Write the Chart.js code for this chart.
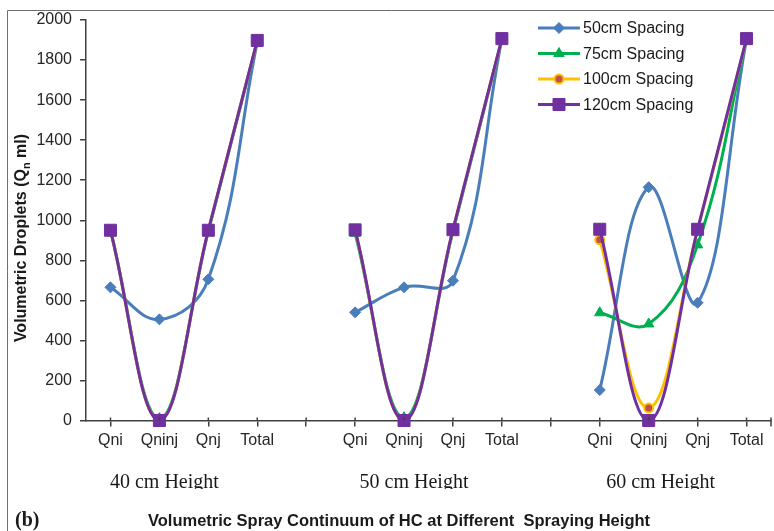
<!DOCTYPE html>
<html>
<head>
<meta charset="utf-8">
<script src="https://cdn.jsdelivr.net/npm/chart.js@4.4.1/dist/chart.umd.min.js"></script>
<style>
  html, body { margin: 0; padding: 0; background: #fff; }
</style>
</head>
<body>
<canvas id="chart" width="774" height="531"></canvas>
<script>
// values, one group of four per spraying height
const categories = ['Qni', 'Qninj', 'Qnj', 'Total'];
const heights = ['40 cm Height', '50 cm Height', '60 cm Height'];
const seriesNames = ['50cm Spacing', '75cm Spacing', '100cm Spacing', '120cm Spacing'];
const spacing50 = [665, 505, 705, 1890, 540, 665, 698, 1905, 152, 1165, 588, 1905];
const spacing75 = [948, 10, 945, 1895, 935, 14, 945, 1905, 538, 482, 877, 1905];
const spacing100 = [950, 0, 950, 1897, 950, 0, 953, 1905, 902, 63, 953, 1905];
const spacing120 = [950, 0, 950, 1898, 952, 0, 953, 1907, 955, 0, 955, 1907];
const yTickValues = [0, 200, 400, 600, 800, 1000, 1200, 1400, 1600, 1800, 2000];
const yTitle = ['Volumetric Droplets (Q', 'n', ' ml)'];
const bottomTitle = 'Volumetric Spray Continuum of HC at Different  Spraying Height';

// one blank category between the groups so the lines break there
const labels = [];
heights.forEach((h, g) => {
    if (g > 0) labels.push('');
    labels.push(...categories);
});
function withGaps(arr) {
    const out = [];
    heights.forEach((h, g) => {
        if (g > 0) out.push(null);
        out.push(...arr.slice(g * 4, g * 4 + 4));
    });
    return out;
}

const styles = [
    { color: '#4a7ebb', fill: '#4a7ebb', point: 'rectRot', r: 5.5 },
    { color: '#00b050', fill: '#00b050', point: 'triangle', r: 6 },
    { color: '#ffc000', fill: '#c0504d', point: 'circle', r: 4.5 },
    { color: '#7030a0', fill: '#7030a0', point: 'rect', r: 8.5 }
];
const values = [spacing50, spacing75, spacing100, spacing120];

const datasets = values.map((v, i) => ({
    label: seriesNames[i],
    data: withGaps(v),
    borderColor: styles[i].color,
    backgroundColor: styles[i].fill,
    borderWidth: 3,
    pointStyle: styles[i].point,
    pointRadius: styles[i].r,
    pointBorderColor: styles[i].color,
    pointBackgroundColor: styles[i].fill,
    pointBorderWidth: i === 2 ? 2 : 1,
    tension: 0.4,
    spanGaps: false,
    clip: false,
    order: 3 - i
}));

const SANS = '"Liberation Sans", Arial, sans-serif';
const SERIF = '"Liberation Serif", "Times New Roman", serif';
const groupLabelShift = [5, 10, 12]; // the figure's labels sit a bit right of Qninj

const extras = {
    id: 'extras',
    afterDraw(chart) {
        const ctx = chart.ctx;
        const x = chart.scales.x;
        ctx.save();
        // frame
        ctx.strokeStyle = '#6e6e6e';
        ctx.lineWidth = 1;
        ctx.beginPath();
        ctx.moveTo(7.5, 540);
        ctx.lineTo(7.5, 10.5);
        ctx.lineTo(780, 10.5);
        ctx.stroke();

        // y title with subscript
        ctx.translate(22, 238);
        ctx.rotate(-Math.PI / 2);
        ctx.fillStyle = '#1a1a1a';
        ctx.textBaseline = 'middle';
        ctx.font = 'bold 16px ' + SANS;
        const w0 = ctx.measureText(yTitle[0]).width;
        ctx.font = 'bold 11px ' + SANS;
        const w1 = ctx.measureText(yTitle[1]).width;
        ctx.font = 'bold 16px ' + SANS;
        const w2 = ctx.measureText(yTitle[2]).width;
        const px = -(w0 + w1 + w2) / 2;
        ctx.textAlign = 'left';
        ctx.fillText(yTitle[0], px, 0);
        ctx.font = 'bold 11px ' + SANS;
        ctx.fillText(yTitle[1], px + w0, 5);
        ctx.font = 'bold 16px ' + SANS;
        ctx.fillText(yTitle[2], px + w0 + w1, 0);
        ctx.setTransform(1, 0, 0, 1, 0, 0);

        // x ticks cross the axis a little, plus one at the right end
        ctx.strokeStyle = '#404040';
        ctx.lineWidth = 1.5;
        ctx.beginPath();
        labels.forEach((l, i) => {
            const tx = x.getPixelForValue(i);
            ctx.moveTo(tx, x.top - 3);
            ctx.lineTo(tx, x.top);
        });
        ctx.moveTo(x.right, x.top - 3);
        ctx.lineTo(x.right, x.top + 6);
        ctx.stroke();

        // group labels (cut off at the bottom as in the figure)
        ctx.save();
        ctx.beginPath();
        ctx.rect(0, 440, 774, 49);
        ctx.clip();
        ctx.fillStyle = '#1a1a1a';
        ctx.font = '20px ' + SERIF;
        ctx.textAlign = 'center';
        ctx.textBaseline = 'alphabetic';
        heights.forEach((h, g) => {
            const cx = x.getPixelForValue(g * 5 + 1) + groupLabelShift[g];
            ctx.fillText(h, cx, 488);
        });
        ctx.restore();

        // bottom texts
        ctx.fillStyle = '#1a1a1a';
        ctx.textBaseline = 'middle';
        ctx.font = 'bold 20px ' + SERIF;
        ctx.textAlign = 'left';
        ctx.fillText('(b)', 15, 521);
        ctx.font = 'bold 16.5px ' + SANS;
        ctx.textAlign = 'center';
        ctx.fillText(bottomTitle, 399, 521);

        // legend
        ctx.font = '16px ' + SANS;
        ctx.textAlign = 'left';
        chart.data.datasets.forEach((ds, i) => {
            const ly = 28 + i * 25.5;
            ctx.strokeStyle = ds.borderColor;
            ctx.lineWidth = 3;
            ctx.beginPath();
            ctx.moveTo(538, ly);
            ctx.lineTo(580, ly);
            ctx.stroke();
            ctx.fillStyle = ds.pointBackgroundColor;
            ctx.strokeStyle = ds.pointBorderColor;
            ctx.lineWidth = ds.pointBorderWidth;
            Chart.helpers.drawPoint(ctx, {
                pointStyle: ds.pointStyle,
                radius: ds.pointRadius,
                rotation: 0,
                borderWidth: ds.pointBorderWidth
            }, 559, ly);
            ctx.fillStyle = '#1a1a1a';
            ctx.textBaseline = 'middle';
            ctx.fillText(ds.label, 583, ly + 1);
        });
        ctx.restore();
    }
};

new Chart(document.getElementById('chart'), {
    type: 'line',
    data: { labels: labels, datasets: datasets },
    options: {
        responsive: false,
        animation: false,
        devicePixelRatio: 1,
        layout: { autoPadding: false, padding: { left: 0, top: 20, right: 3, bottom: 0 } },
        plugins: {
            legend: { display: false },
            tooltip: { enabled: false }
        },
        scales: {
            x: {
                offset: true,
                grid: {
                    offset: false,
                    drawOnChartArea: false,
                    drawTicks: true,
                    tickLength: 6,
                    color: '#404040',
                    lineWidth: 1.5
                },
                border: { color: '#404040', width: 1.5 },
                ticks: {
                    color: '#262626',
                    font: { family: SANS, size: 16 },
                    maxRotation: 0,
                    autoSkip: false,
                    padding: 4
                },
                afterFit(scale) {
                    scale.height = 110.5;
                    scale.paddingLeft = 0;
                    scale.paddingRight = 0;
                }
            },
            y: {
                min: yTickValues[0],
                max: yTickValues[yTickValues.length - 1],
                afterBuildTicks(scale) { scale.ticks = yTickValues.map(v => ({ value: v })); },
                grid: {
                    drawOnChartArea: false,
                    tickLength: 6,
                    color: '#404040',
                    lineWidth: 1.5
                },
                border: { color: '#404040', width: 1.5 },
                ticks: {
                    color: '#262626',
                    font: { family: SANS, size: 16 },
                    padding: 8,
                    callback: v => String(v)
                },
                afterFit(scale) { scale.width = 86; }
            }
        }
    },
    plugins: [extras]
});
</script>
</body>
</html>
